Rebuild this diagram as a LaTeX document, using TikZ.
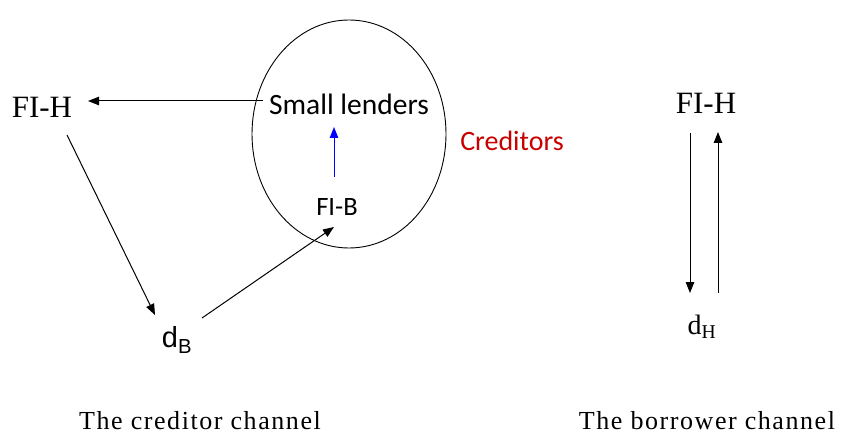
\documentclass[tikz,border=0pt]{standalone}
\usepackage{fontspec}
\setmainfont{Liberation Serif}
\newfontfamily\calfont{Carlito}
\newfontfamily\arialfont{Liberation Sans}
\newfontfamily\capfont[LetterSpace=6]{Liberation Serif}
\usetikzlibrary{arrows.meta,calc,shapes.geometric}
\definecolor{credred}{RGB}{200,0,0}
\begin{document}
\begin{tikzpicture}[x=1pt,y=-1pt,
  lbl/.style={inner sep=0pt},
  serifbig/.style={lbl,font=\fontsize{31}{31}\selectfont},
  calbig/.style={lbl,font=\calfont\fontsize{29.5}{29.5}\selectfont},
  capt/.style={lbl,font=\capfont\fontsize{26}{26}\selectfont},
  arr/.style={line width=1pt,-{Triangle[length=11pt,width=8.5pt]}}]
\useasboundingbox (0,0) rectangle (842,435);
% left diagram
\node[draw,ellipse,line width=0.9pt,minimum width=194pt,minimum height=228pt,inner sep=0pt] (grp) at (349,134) {};
\node[serifbig] (fihL) at (42,107) {FI-H};
\node[calbig] (sl) at (349,104) {Small lenders};
\node[lbl,font=\calfont\fontsize{26.5}{26.5}\selectfont] (fib) at (337,207) {FI-B};
\node[lbl,font=\arialfont\fontsize{29}{29}\selectfont] (db) at (177,340) {d\textsubscript{B}};
\node[lbl,font=\calfont\fontsize{28}{28}\selectfont,text=credred] (cred) at (512,141) {Creditors};
\node[capt] (capL) at (200,421) {The creditor channel};
\draw[arr] ($(sl.center)+(-86,-3)$) -- ($(fihL.center)+(46,-6)$);
\draw[arr] ($(fihL.center)+(25,28)$) -- ($(db.center)+(-22,-25)$);
\draw[arr] ($(db.center)+(25,-22)$) -- ($(fib.center)+(-3,20)$);
\draw[arr,blue] ($(fib.center)+(-3,-30)$) -- ($(sl.center)+(-15,23)$);
% right diagram
\node[serifbig] (fihR) at (706,103) {FI-H};
\node[lbl,font=\fontsize{28}{28}\selectfont] (dh) at (702,327) {d\textsubscript{H}};
\node[capt] (capR) at (707,421) {The borrower channel};
\draw[arr] ($(fihR.center)+(-16,30)$) -- ($(dh.center)+(-12,-34)$);
\draw[arr] ($(dh.center)+(16,-34)$) -- ($(fihR.center)+(12,29)$);
\end{tikzpicture}
\end{document}
